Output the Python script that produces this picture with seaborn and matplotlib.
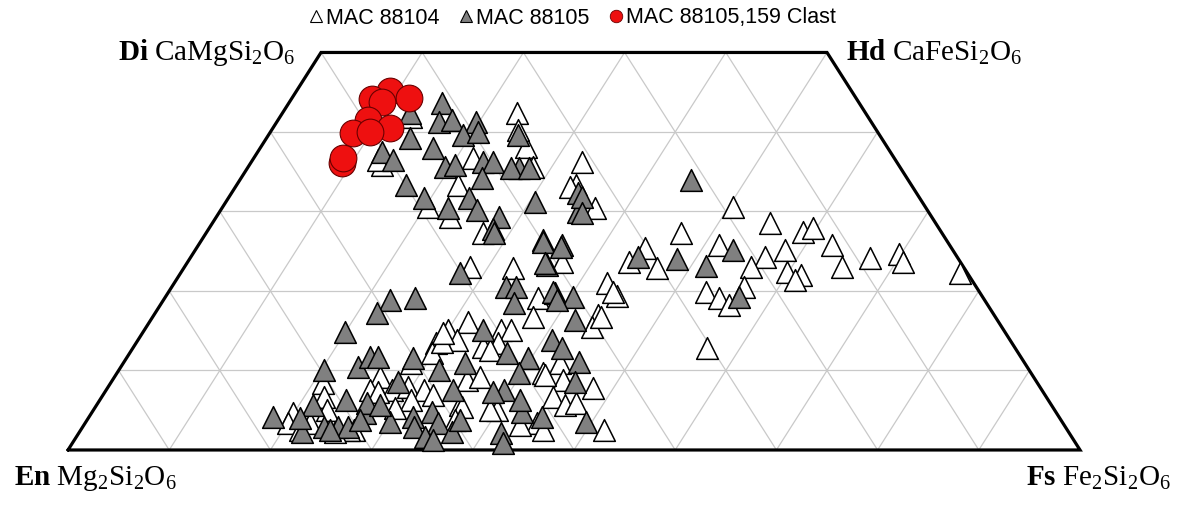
import matplotlib
matplotlib.use("Agg")
import matplotlib.pyplot as plt
from matplotlib.lines import Line2D
import numpy as np
import pandas as pd
import seaborn as sns

sns.set_style("white")
plt.rcParams["font.family"] = ["Liberation Sans", "DejaVu Sans"]
plt.rcParams["text.color"] = "black"
plt.rcParams["mathtext.fontset"] = "custom"
plt.rcParams["mathtext.rm"] = "Liberation Serif"
plt.rcParams["mathtext.it"] = "Liberation Serif:italic"
plt.rcParams["mathtext.bf"] = "Liberation Serif:bold"

# Pyroxene compositions in mol %: Wo (Ca) and Fs (Fe); En = 100 - Wo - Fs
wo_88104 = [42.4, 38.1, 36.7, 33.3, 36.2, 33.3, 30.4, 30.6, 29.3, 27.3, 35.8, 35.6, 41.9, 36.5, 40.3, 33.1,
            30.6, 28.6, 27.3, 27.4, 27.9, 25.4, 23.6, 22.9, 25.8, 24.3, 23.0, 25.2, 22.4, 22.0, 21.4, 25.8,
            23.0, 24.2, 24.7, 23.6, 22.3, 19.9, 19.1, 18.2, 20.5, 12.8, 21.0, 19.4, 17.0, 15.5,
            23.0, 22.9, 19.1, 16.7, 16.1, 15.1, 15.1, 16.7, 15.1, 13.5, 13.8, 13.0, 13.5, 9.7, 10.9, 8.8,
            7.8, 2.5, 6.7, 5.7, 5.9, 3.4, 2.5, 5.0, 5.0, 5.7, 8.8, 9.2, 7.5, 9.2, 7.5, 7.9, 7.5, 6.3, 6.9,
            8.4, 6.7, 4.7, 3.4, 3.4, 5.0, 2.5, 2.5, 7.5, 10.9, 12.2, 13.6, 19.9, 23.6,
            9.4, 5.4, 14.7, 7.3, 2.5, 2.3, 5.3, 3.8, 3.1, 12.6]
fs_88104 = [23.2, 26.2, 21.7, 21.9, 32.7, 33.5, 36.9, 20.3, 23.1, 27.4, 13.1, 28.1, 12.9, 12.4, 24.3, 33.1,
            50.4, 55.1, 46.9, 58.9, 59.7, 44.3, 43.6, 46.8, 51.4, 56.7, 56.0, 58.2, 59.8, 61.4, 61.1, 62.6,
            65.0, 67.1, 69.8, 70.7, 77.0, 53.1, 54.8, 56.2, 56.5, 56.7, 42.8, 44.5, 43.9, 44.0,
            28.2, 32.5, 36.9, 44.3, 31.5, 30.0, 35.2, 37.6, 36.2, 29.6, 31.5, 34.5, 35.7, 42.1, 43.2, 44.5,
            48.0, 51.7, 44.6, 46.3, 47.2, 44.6, 45.7, 39.9, 39.2, 35.9, 35.0, 36.1, 26.8, 26.2, 28.3, 29.6,
            31.4, 30.7, 32.6,
            21.0, 21.9, 19.9, 20.0, 22.2, 23.1, 27.0, 26.5, 26.1, 28.4, 29.9, 30.2, 43.9, 37.0,
            42.4, 36.2, 29.7, 27.0, 21.7, 25.2, 29.7, 36.3, 43.1, 35.4]

wo_88105 = [43.6, 41.3, 41.5, 41.3, 39.6, 40.0, 39.2, 37.5, 36.5, 38.0, 35.6, 35.8, 36.2, 36.2, 34.2, 39.6,
            35.5, 35.5, 35.5, 33.3, 31.7, 30.4, 31.7, 30.2, 29.3, 27.8, 31.2, 32.3, 29.9, 26.4, 25.8, 42.4,
            23.3, 22.3, 20.5, 20.5, 19.7, 19.2, 31.8, 29.8,
            34.0, 24.3, 24.0, 25.2, 23.1, 19.2,
            27.3, 26.2, 25.5, 23.5, 18.5, 19.9, 18.9, 16.4, 18.9, 19.1, 17.2, 14.8, 10.4, 11.7, 11.7, 10.1,
            11.6, 8.6, 10.1, 10.9, 15.1, 12.2, 11.6, 9.7, 13.8, 12.8, 11.1, 8.6, 7.5, 7.5, 7.3, 5.7, 6.3,
            4.7, 4.2, 2.3, 2.9, 2.9, 2.9, 3.5, 4.2, 2.9, 4.8, 3.4, 1.6, 2.3, 2.1, 0.9, 4.8, 4.2, 3.5, 1.3, 5.9,
            4.0, 2.5, 3.8, 5.7, 3.8, 6.3]
fs_88105 = [15.2, 16.0, 17.2, 19.7, 19.2, 20.5, 14.2, 12.3, 13.9, 17.1, 19.5, 20.3, 22.9, 23.9, 23.8, 24.7,
            26.8, 26.0, 27.8, 16.7, 19.3, 22.3, 23.8, 25.3, 27.9, 28.1, 30.5, 34.2, 35.4, 33.7, 35.9, 12.6,
            35.7, 27.6, 33.0, 34.0, 38.3, 40.3, 34.9, 35.9,
            44.6, 44.2, 48.2, 53.1, 51.5, 56.7,
            28.4, 33.8, 36.0, 35.4, 34.8, 38.0, 38.9, 41.9, 22.4, 24.7, 21.9, 20.0, 23.5, 24.0, 24.8, 20.2,
            28.3, 28.3, 31.6, 33.8, 33.5, 37.3, 39.7, 39.7, 40.9, 42.4, 44.9, 45.8, 34.3, 39.3, 38.3, 21.4,
            24.3, 27.0, 18.2, 22.0, 23.8, 25.2, 26.2, 30.1, 32.0, 32.7, 33.6, 34.9, 34.5, 36.8, 41.7, 42.5,
            42.5, 44.7, 49.4, 35.4, 26.6,
            20.9, 24.6, 27.0, 28.0, 36.8, 41.5]

wo_clast = [45.2, 44.2, 44.3, 43.8, 41.5, 39.9, 40.5, 40.0, 36.1, 36.7]
fs_clast = [9.2, 7.9, 11.5, 9.1, 8.9, 8.2, 11.6, 9.8, 9.0, 8.8]

series_names = ["MAC 88104", "MAC 88105", "MAC 88105,159 Clast"]
corner_names = ["En", "Fs", "Hd", "Di"]
corner_formulas = ["Mg$_2$Si$_2$O$_6$", "Fe$_2$Si$_2$O$_6$", "CaFeSi$_2$O$_6$", "CaMgSi$_2$O$_6$"]


def to_xy(wo, fs):
    wo = np.asarray(wo, dtype=float)
    fs = np.asarray(fs, dtype=float)
    return fs + wo / 2.0, wo


def frame(wo, fs):
    x, y = to_xy(wo, fs)
    return pd.DataFrame({"x": x, "y": y})


fig = plt.figure(figsize=(11.97, 5.05), dpi=100)
ax = fig.add_axes([0, 0, 1, 1])
ax.set_xlim(-6.72, 111.56)
ax.set_ylim(-6.92, 56.6)
ax.axis("off")

# light triangular grid at 10 mol % steps
grid_kw = dict(color="#c9c9c9", lw=0.9, zorder=1)
for v in range(10, 100, 10):
    wmax = min(50, 100 - v)
    # constant Fs
    x, y = to_xy([0, wmax], [v, v])
    ax.plot(x, y, **grid_kw)
    # constant En
    x, y = to_xy([0, wmax], [100 - v, 100 - v - wmax])
    ax.plot(x, y, **grid_kw)
for w in range(10, 50, 10):
    x, y = to_xy([w, w], [0, 100 - w])
    ax.plot(x, y, **grid_kw)

# quadrilateral outline
bx, by = to_xy([0, 0, 50, 50, 0], [0, 100, 50, 0, 0])
ax.plot(bx, by, color="black", lw=2.3, zorder=2, solid_joinstyle="miter")

tri_s = 245
sns.scatterplot(data=frame(wo_88104, fs_88104), x="x", y="y", ax=ax, marker="^", s=tri_s,
                color="white", edgecolor="black", linewidth=1.1, legend=False, zorder=3)
sns.scatterplot(data=frame(wo_88105, fs_88105), x="x", y="y", ax=ax, marker="^", s=tri_s,
                color="#808080", edgecolor="black", linewidth=1.1, legend=False, zorder=4)
sns.scatterplot(data=frame(wo_clast, fs_clast), x="x", y="y", ax=ax, marker="o", s=370,
                color="#ee1010", edgecolor="#6a0000", linewidth=0.8, legend=False, zorder=5)
ax.set_xlabel("")
ax.set_ylabel("")

# end-member labels
lab_kw = dict(fontsize=21, family=["Liberation Serif", "DejaVu Serif"], color="black", zorder=6)
cx, cy = to_xy([0, 0, 50, 50], [0, 100, 50, 0])
ax.text(-5.3, -3.6, rf"$\mathbf{{{corner_names[0]}}}$ {corner_formulas[0]}", ha="left", va="center", **lab_kw)
ax.text(109.0, -3.6, rf"$\mathbf{{{corner_names[1]}}}$ {corner_formulas[1]}", ha="right", va="center", **lab_kw)
ax.text(cx[2] + 1.9, 50.0, rf"$\mathbf{{{corner_names[2]}}}$ {corner_formulas[2]}", ha="left", va="center", **lab_kw)
ax.text(cx[3] - 2.5, 50.0, rf"$\mathbf{{{corner_names[3]}}}$ {corner_formulas[3]}", ha="right", va="center", **lab_kw)

handles = [
    Line2D([], [], ls="", marker="^", ms=9, mfc="white", mec="black", mew=0.8),
    Line2D([], [], ls="", marker="^", ms=9, mfc="#808080", mec="black", mew=0.8),
    Line2D([], [], ls="", marker="o", ms=9, mfc="#ee1010", mec="#6a0000", mew=0.6),
]
fig.legend(handles, series_names, loc="center", bbox_to_anchor=(572 / 1197, 1 - 18 / 505), ncol=3,
           frameon=False, fontsize=15.5, handlelength=0.7, handletextpad=0.1, columnspacing=0.9,
           labelcolor="black")

fig.savefig("out.png", dpi=100)
